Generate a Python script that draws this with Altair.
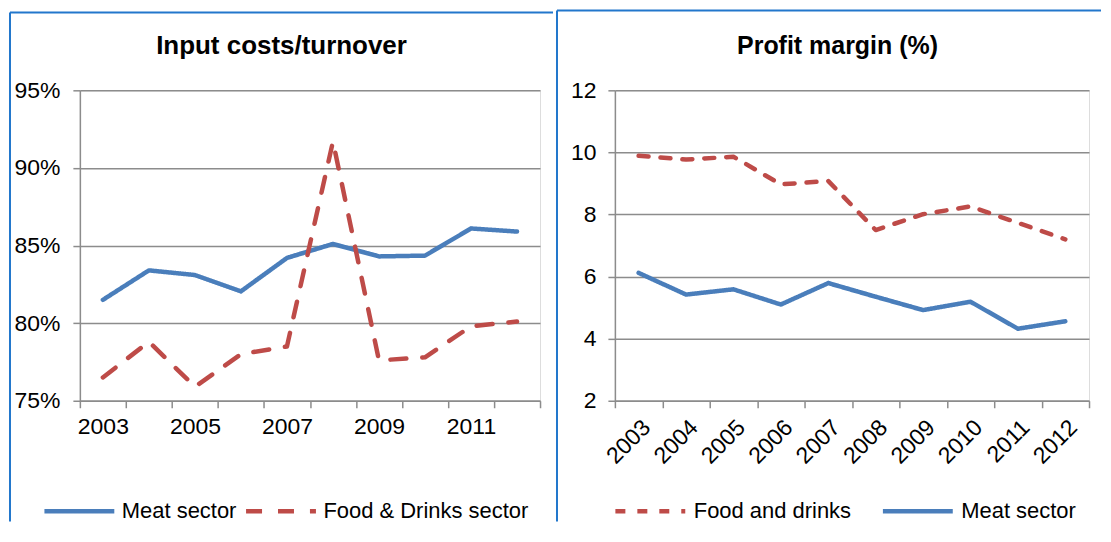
import altair as alt
import pandas as pd

years = ["2003", "2004", "2005", "2006", "2007", "2008", "2009", "2010", "2011", "2012"]

# Left panel: input costs / turnover (fraction)
meat_input = [0.815, 0.834, 0.831, 0.8205, 0.842, 0.851, 0.843, 0.8435, 0.861, 0.859]
food_input = [0.765, 0.788, 0.759, 0.780, 0.785, 0.917, 0.776, 0.778, 0.798, 0.801]

# Right panel: profit margin (%)
food_margin = [9.89, 9.77, 9.86, 8.97, 9.08, 7.5, 8.01, 8.26, 7.73, 7.2]
meat_margin = [6.12, 5.42, 5.59, 5.1, 5.79, 5.35, 4.92, 5.19, 4.32, 4.56]

left_series = ["Meat sector", "Food & Drinks sector"]
right_series = ["Food and drinks", "Meat sector"]
left_title = "Input costs/turnover"
right_title = "Profit margin (%)"

BLUE = "#4a7ebb"
RED = "#be4b48"
GRID = "#8c8c8c"
BORDER = "#2277cc"
FONT = "Liberation Sans"

left_df = pd.DataFrame(
    {"year": years * 2,
     "series": [left_series[0]] * 10 + [left_series[1]] * 10,
     "value": meat_input + food_input}
)
right_df = pd.DataFrame(
    {"year": years * 2,
     "series": [right_series[0]] * 10 + [right_series[1]] * 10,
     "value": food_margin + meat_margin}
)

LW, RW, H = 461, 475, 311
one = pd.DataFrame({"k": [0]})


def border(x, x2, y, y2):
    return alt.Chart(one).mark_rule(color=BORDER, strokeWidth=2).encode(
        x=alt.value(x), x2=alt.value(x2), y=alt.value(y), y2=alt.value(y2)
    )


def title_text(text, xc, size):
    return alt.Chart(pd.DataFrame({"t": [text]})).mark_text(
        font=FONT, fontSize=size, fontWeight="bold", color="black",
        align="center", baseline="alphabetic"
    ).encode(text="t:N", x=alt.value(xc), y=alt.value(-36))


def make_legend(lx, ly, colpad, offset):
    return alt.Legend(
        orient="none", legendX=lx, legendY=ly, direction="horizontal",
        title=None, symbolType="stroke", symbolSize=4900, symbolStrokeWidth=4.5,
        labelFontSize=22, labelFont=FONT, labelColor="black", labelLimit=400,
        columnPadding=colpad, labelOffset=offset, padding=0,
    )


# ---------- left panel ----------
leg_l = make_legend(-38, 384, 0, 5)
left_lines = alt.Chart(left_df).mark_line(
    strokeWidth=4.5, strokeCap="round", strokeJoin="round"
).encode(
    x=alt.X("year:O", bandPosition=0.5,
            scale=alt.Scale(type="band", paddingInner=0, paddingOuter=0),
            sort=years,
            axis=alt.Axis(title=None, tickBand="extent", labelAngle=0,
                          labelExpr="parseInt(datum.value) % 2 == 1 ? datum.label : ''",
                          labelFontSize=23, labelFont=FONT, labelColor="black",
                          labelPadding=8, tickSize=7, tickColor=GRID, tickWidth=1.5,
                          domainColor=GRID, domainWidth=1.5, grid=False)),
    y=alt.Y("value:Q",
            scale=alt.Scale(domain=[0.75, 0.95], nice=False, zero=False),
            axis=alt.Axis(title=None, values=[0.75, 0.80, 0.85, 0.90, 0.95], format=".0%",
                          labelFontSize=23, labelFont=FONT, labelColor="black",
                          labelPadding=13, tickSize=7, tickColor=GRID, tickWidth=1.5,
                          domainColor=GRID, domainWidth=1.5,
                          grid=True, gridColor=GRID, gridWidth=1.5)),
    color=alt.Color("series:N", scale=alt.Scale(domain=left_series, range=[BLUE, RED]),
                    legend=leg_l),
    strokeDash=alt.StrokeDash("series:N",
                              scale=alt.Scale(domain=left_series, range=[[1, 0], [16, 16]]),
                              legend=leg_l),
)

left = alt.layer(
    left_lines,
    title_text(left_title, 202, 26),
    border(-70, -70, -78, 432),
    border(-70, 474, -78, -78),
).properties(width=LW, height=H)

# ---------- right panel ----------
leg_r = make_legend(-2, 384, 22, 6)
right_lines = alt.Chart(right_df).mark_line(
    strokeWidth=4.5, strokeCap="round", strokeJoin="round"
).encode(
    x=alt.X("year:O", bandPosition=0.5,
            scale=alt.Scale(type="band", paddingInner=0, paddingOuter=0),
            sort=years,
            axis=alt.Axis(title=None, tickBand="extent", labelAngle=315,
                          labelFontSize=23, labelFont=FONT, labelColor="black",
                          labelPadding=8, tickSize=7, tickColor=GRID, tickWidth=1.5,
                          domainColor=GRID, domainWidth=1.5, grid=False)),
    y=alt.Y("value:Q",
            scale=alt.Scale(domain=[2, 12], nice=False, zero=False),
            axis=alt.Axis(title=None, values=[2, 4, 6, 8, 10, 12], format="d",
                          labelFontSize=23, labelFont=FONT, labelColor="black",
                          labelPadding=12, tickSize=7, tickColor=GRID, tickWidth=1.5,
                          domainColor=GRID, domainWidth=1.5,
                          grid=True, gridColor=GRID, gridWidth=1.5)),
    color=alt.Color("series:N", scale=alt.Scale(domain=right_series, range=[RED, BLUE]),
                    legend=leg_r),
    strokeDash=alt.StrokeDash("series:N",
                              scale=alt.Scale(domain=right_series, range=[[10, 12], [1, 0]]),
                              legend=leg_r),
)

right = alt.layer(
    right_lines,
    title_text(right_title, 223, 25),
    border(-58, -58, -80, 432),
    border(-58, 487, -80, -80),
).properties(width=RW, height=H)

chart = alt.hconcat(left, right, spacing=0).resolve_scale(
    color="independent", strokeDash="independent", x="independent", y="independent"
).properties(padding=0).configure_view(stroke=None).configure(font=FONT)

chart.save("out.html", embed_options={"renderer": "svg", "actions": False})
